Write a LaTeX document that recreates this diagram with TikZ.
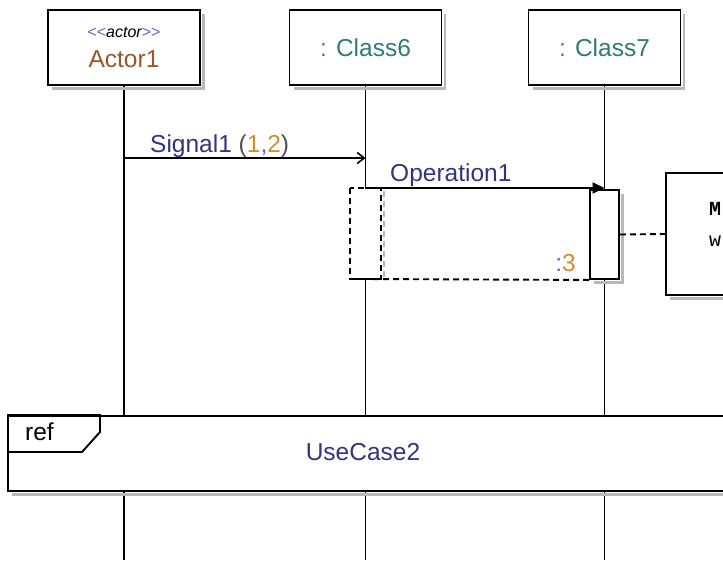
\documentclass[tikz,border=0pt]{standalone}
\usepackage{fontspec}
\setmainfont{Liberation Sans}
\newfontfamily\notefont{Liberation Mono}
\usetikzlibrary{arrows.meta}

\definecolor{umlnavy}{RGB}{51,51,128}
\definecolor{umlbrown}{RGB}{153,85,45}
\definecolor{umlteal}{RGB}{45,125,120}
\definecolor{umlorange}{RGB}{215,140,40}
\definecolor{umlblue}{RGB}{100,100,200}
\definecolor{umlgray}{RGB}{80,80,80}

\tikzset{
  uml/.style={line width=1.9pt},
  umldash/.style={uml, dash pattern=on 6pt off 4pt},
  shadowline/.style={line width=2.6pt, black!28},
  head/.style={uml, draw, fill=white, minimum width=152pt, minimum height=75pt,
    inner sep=0pt, align=center},
  lifeline/.style={uml},
  activation/.style={uml, draw, fill=white, minimum width=29pt, minimum height=89pt,
    inner sep=0pt},
  msglabel/.style={anchor=base west, inner sep=0pt, text=umlnavy},
  big/.style={font=\fontsize{24.5}{28}\selectfont},
}
% gray shadow along the right and bottom edge of a box
\newcommand{\boxshadow}[1]{%
  \draw[shadowline] ([xshift=2.4pt,yshift=-5pt]#1.north east) -- ([xshift=2.4pt,yshift=-2.4pt]#1.south east)
    -- ([xshift=5pt,yshift=-2.4pt]#1.south west);}

\begin{document}
\begin{tikzpicture}[x=1pt, y=-1pt, big]
    \useasboundingbox (0,0) rectangle (723,560);
    \clip (0,0) rectangle (723,560);

    % Heads
    \node[head] (actor) at (124,47.5) {%
      {\fontsize{16}{18}\selectfont\color{umlblue}\mbox{<}\mbox{<}\textcolor{black}{\itshape actor}\mbox{>}\mbox{>}}\\[2pt]
      \textcolor{umlbrown}{Actor1}};
    \node[head] (class6) at (365.5,47.5) {\textcolor{umlblue}{:} \textcolor{umlteal}{Class6}};
    \node[head] (class7) at (604.5,47.5) {\textcolor{umlblue}{:} \textcolor{umlteal}{Class7}};

    % Lifelines
    \coordinate (actorend) at (actor.south |- 0,560);
    \coordinate (class6end) at (class6.south |- 0,560);
    \coordinate (class7end) at (class7.south |- 0,560);
    \draw[lifeline] (actor.south) -- (actorend);
    \draw[lifeline] (class6.south) -- (class6end);
    \draw[lifeline] (class7.south) -- (class7end);
    \boxshadow{actor}
    \boxshadow{class6}
    \boxshadow{class7}

    % Activations
    \node[activation, draw=none] (act6) at (365.5,233.5) {};
    \draw[umldash, black!28] ([xshift=3pt,yshift=-3pt]act6.north east) -- ([xshift=3pt,yshift=-2pt]act6.south east);
    \draw[umldash] (act6.north west) -- (act6.south west) -- (act6.south east)
      -- (act6.north east) -- (act6.north west);
    \node[activation] (act7) at (604.5,234.5) {};
    \boxshadow{act7}

    % Signal1
    \coordinate (sigstart) at (actor.south |- 0,158);
    \coordinate (sigend) at (class6.south |- 0,158);
    \draw[uml, -{Straight Barb[length=7pt, width=11pt, line width=1.6pt]}] (sigstart) -- (sigend);
    \node[msglabel] (siglabel) at (150,152) {Signal1 \textcolor{umlgray}{(}\textcolor{umlorange}{1}\textcolor{umlblue}{,}\textcolor{umlorange}{2}\textcolor{umlgray}{)}};

    % Operation1
    \coordinate (opstart) at (class6.south |- 0,188);
    \coordinate (opend) at (class7.south |- 0,188);
    \draw[uml, -{Triangle[length=12pt, width=11pt]}] (opstart) -- (opend);
    \node[msglabel] (oplabel) at (390,181) {Operation1};

    % Return :3
    \draw[umldash] (act7.south west) -- (act6.south west);
    \node[anchor=base east, inner sep=0pt] (retlabel) at (576,271) {\textcolor{umlblue}{:}\textcolor{umlorange}{3}};

    % Note
    \node[uml, draw, fill=white, minimum width=140pt, minimum height=122pt, anchor=west]
      (note) at (665,234) {};
    \boxshadow{note}
    \node[anchor=base west, inner sep=0pt, font=\notefont\bfseries\fontsize{20}{22}\selectfont] (notel1) at (709,215) {M};
    \node[anchor=base west, inner sep=0pt, font=\notefont\fontsize{20}{22}\selectfont] (notel2) at (709,246) {w};
    \draw[umldash] (act7.east) -- (note.west);

    % Ref frame
    \node[uml, draw, fill=white, minimum width=760pt, minimum height=75pt, anchor=north west,
      inner sep=0pt] (ref) at (7,415) {};
    \boxshadow{ref}
    \draw[uml] (ref.north west) -- ++(93,0) -- ++(0,17) -- ++(-18,20) -- ++(-75,0);
    \node[anchor=base west, inner sep=0pt] (reflabel) at (25,440) {ref};
    \node[text=umlnavy] (usecase) at (363,452) {UseCase2};
\end{tikzpicture}
\end{document}
